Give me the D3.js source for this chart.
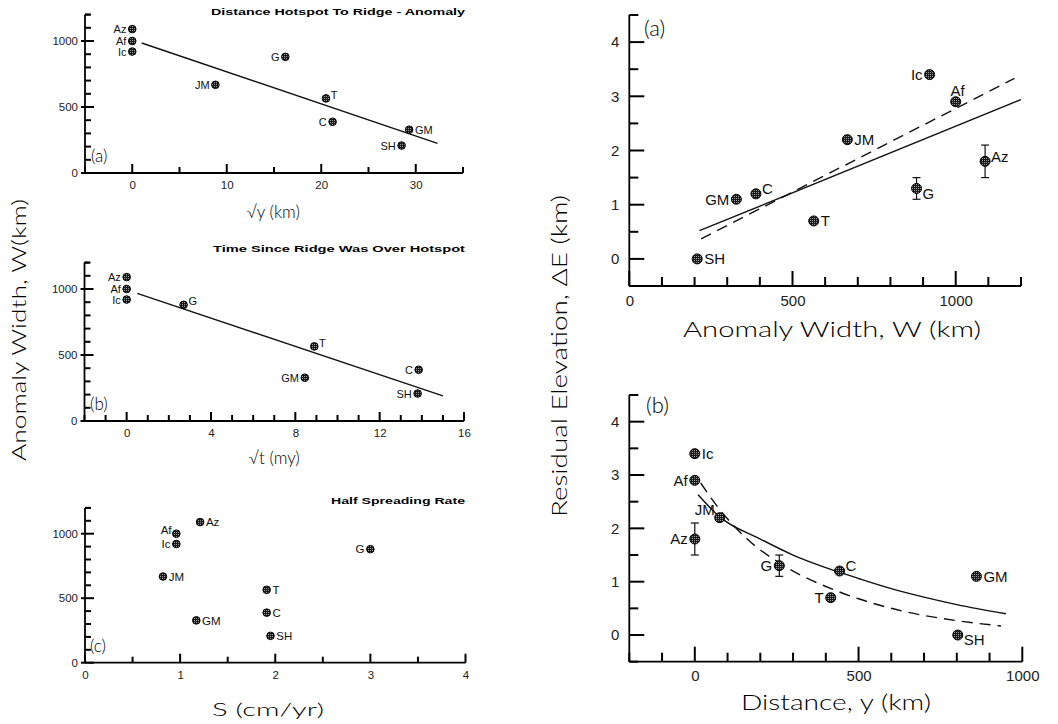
<!DOCTYPE html>
<html><head><meta charset="utf-8">
<script src="https://cdn.jsdelivr.net/npm/d3@7"></script>
<style>body{margin:0;background:#fff}svg{display:block}</style>
</head><body>
<svg id="c" width="1058" height="724"></svg>
<script>
// ---------- data ----------
const names    = ["Az","Af","Ic","G","JM","T","C","GM","SH"];
const widthW   = [1090,1000,920,880,668,565,388,328,208];        // anomaly width W (km)
const sqrtY    = [0,0,0,16.2,8.8,20.5,21.2,29.3,28.5];            // sqrt(y), km
const sqrtT    = [0,0,0,2.7,null,8.9,13.85,8.45,13.8];            // sqrt(t), my
const spreadS  = [1.21,0.96,0.96,3.0,0.82,1.91,1.91,1.17,1.95];   // half spreading rate cm/yr
const elevE    = [1.8,2.9,3.4,1.3,2.2,0.7,1.2,1.1,0.0];           // residual elevation (km)
const errLow   = [1.5,null,null,1.1,null,null,null,null,null];
const errHigh  = [2.1,null,null,1.5,null,null,null,null,null];
const distY    = [0,0,0,258,76,415,442,860,803];                  // distance y (km)

const fitA_x = [1, 32.3],   fitA_w = [985, 225];
const fitB_x = [0.5, 15],   fitB_w = [967, 190];
const lineW_solid = [215, 1200], lineE_solid = [0.52, 2.94];
const lineW_dash  = [220, 1180], lineE_dash  = [0.37, 3.33];
const curveY_solid = [10, 75, 200, 300, 445, 500, 600, 700, 800, 950];
const curveE_solid = [2.63, 2.22, 1.8, 1.5, 1.17, 1.06, 0.87, 0.71, 0.57, 0.40];
const curveY_dash  = [18, 70, 160, 272, 424, 500, 648, 800, 935];
const curveE_dash  = [2.85, 2.4, 1.8, 1.3, 0.85, 0.68, 0.43, 0.27, 0.17];

const leftYTicks = [0, 500, 1000];
const xTicksA = [0, 10, 20, 30];
const xTicksB = [0, 4, 8, 12, 16];
const xTicksC = [0, 1, 2, 3, 4];
const rightYTicks = [0, 1, 2, 3, 4];
const xTicksRA = [0, 500, 1000];
const xTicksRB = [0, 500, 1000];

// ---------- drawing ----------
const svg = d3.select("#c");
const NUM = "'Liberation Sans', Arial, sans-serif";
const LBL = "Lato, 'Noto Sans', sans-serif";
const fmt = d3.format("d");
const TICKCOL = "#000";

const defs = svg.append("defs");
const pat = defs.append("pattern").attr("id","spk").attr("width",2).attr("height",2)
  .attr("patternUnits","userSpaceOnUse");
pat.append("rect").attr("width",2).attr("height",2).attr("fill","#1a1a1a");
pat.append("rect").attr("width",1).attr("height",1).attr("fill","#9a9a9a");

const isMajor = (arr, d) => arr.some(t => Math.abs(t - d) < 1e-9);

function panel(cfg){
  const x = d3.scaleLinear().domain(cfg.xd).range(cfg.xr);
  const y = d3.scaleLinear().domain(cfg.yd).range(cfg.yr);
  const g = svg.append("g");
  const x0 = cfg.xr[0], y0 = cfg.yr[0];
  const xMin = d3.range(cfg.xd[0], cfg.xd[1]+1e-9, cfg.xMinor);
  const yMin = d3.range(cfg.yd[0], cfg.yd[1]+1e-9, cfg.yMinor);
  const xm = g.append("g").attr("transform",`translate(0,${y0})`)
    .call(d3.axisBottom(x).tickValues(cfg.xTicks).tickSize(0).tickPadding(cfg.xPad).tickFormat(fmt));
  const ym = g.append("g").attr("transform",`translate(${x0},0)`)
    .call(d3.axisLeft(y).tickValues(cfg.yTicks).tickSize(0).tickPadding(cfg.yPad).tickFormat(fmt));
  [xm,ym].forEach(a=>{
    a.selectAll("text").attr("font-family",NUM).attr("font-size",cfg.tickFont).attr("fill","#222");
  });
  xm.select(".domain").attr("d",`M${cfg.xr[0]},0H${cfg.xr[1]}`).attr("stroke","#000").attr("stroke-width",1.8);
  ym.select(".domain").attr("d",`M0,${cfg.yr[0]}V${cfg.yr[1]}`).attr("stroke","#000").attr("stroke-width",1.8);
  const tg = g.append("g").attr("class","ticks");
  xMin.forEach(d=>{
    const L = isMajor(cfg.xTicks,d) ? cfg.majorLen : cfg.minorLen;
    tg.append("path").attr("d",`M${x(d)},${y0}V${y0-L}`).attr("stroke",TICKCOL).attr("stroke-width",2).attr("fill","none");
  });
  yMin.forEach(d=>{
    const maj = isMajor(cfg.yTicks,d);
    const L = maj ? cfg.majorLen : cfg.minorLen, o = maj ? cfg.majorOut : 0;
    tg.append("path").attr("d",`M${x0-o},${y(d)}H${x0+L}`).attr("stroke",TICKCOL).attr("stroke-width",2).attr("fill","none");
  });
  tg.append("path").attr("d",`M${x0},${cfg.yr[1]}H${x0+5}`).attr("stroke",TICKCOL).attr("stroke-width",2);
  return {x,y,g};
}

function dots(p, xs, ys, place, r, fs){
  const data = names.map((n,i)=>({n, xv:xs[i], yv:ys[i], pl:place[i]})).filter(d=>d.xv!=null && d.yv!=null);
  p.g.selectAll(null).data(data).join("circle")
    .attr("cx",d=>p.x(d.xv)).attr("cy",d=>p.y(d.yv)).attr("r",r)
    .attr("fill","url(#spk)").attr("stroke","#000").attr("stroke-width",1);
  const off = {l:[-r-2,0,"end"], r:[r+2,0,"start"], ru:[r+1,-r,"start"], lu:[-r-1,-r,"end"],
               u:[2,-r-6,"middle"], rd:[r+1,r,"start"], ul:[-r,-r-3,"end"]};
  p.g.selectAll(null).data(data).join("text")
    .attr("x",d=>p.x(d.xv)+off[d.pl][0]).attr("y",d=>p.y(d.yv)+off[d.pl][1])
    .attr("dy","0.36em").attr("text-anchor",d=>off[d.pl][2])
    .attr("font-family",NUM).attr("font-size",fs).attr("fill","#111").text(d=>d.n);
}
function errbars(p, xs){
  const data = names.map((n,i)=>({xv:xs[i], lo:errLow[i], hi:errHigh[i]})).filter(d=>d.lo!=null);
  data.forEach(d=>{
    const cx = p.x(d.xv);
    p.g.append("line").attr("x1",cx).attr("x2",cx).attr("y1",p.y(d.lo)).attr("y2",p.y(d.hi)).attr("stroke","#111").attr("stroke-width",1.2);
    [d.lo,d.hi].forEach(v=>p.g.append("line").attr("x1",cx-4).attr("x2",cx+4).attr("y1",p.y(v)).attr("y2",p.y(v)).attr("stroke","#111").attr("stroke-width",1.2));
  });
}
function line(p, xs, ys, dash, curve){
  const pts = xs.map((v,i)=>[v,ys[i]]);
  p.g.append("path").datum(pts)
    .attr("d", d3.line().x(d=>p.x(d[0])).y(d=>p.y(d[1])).curve(curve||d3.curveLinear))
    .attr("fill","none").attr("stroke","#111").attr("stroke-width",1.4)
    .attr("stroke-dasharray", dash ? "11,7" : null);
}
function text(x,y,s,opt){
  const t = svg.append("text").attr("x",x).attr("y",y).text(s)
    .attr("font-family",opt.ff||LBL).attr("font-size",opt.fs).attr("fill","#000")
    .attr("text-anchor",opt.anchor||"middle");
  t.attr("font-weight",opt.fw||300);
  if(opt.len) t.attr("textLength",opt.len).attr("lengthAdjust","spacingAndGlyphs");
  if(opt.rot) t.attr("transform",`rotate(-90,${x},${y})`);
  return t;
}

const leftCommon = {yd:[0,1200], yMinor:100, yTicks:leftYTicks, minorLen:6, majorLen:9, majorOut:4, xPad:8, yPad:7, tickFont:11.5};
// ---- Left (a)
const pA = panel(Object.assign({}, leftCommon, {xr:[85,463], yr:[173,14.6], xd:[-5,35], xMinor:5, xTicks:xTicksA}));
line(pA, fitA_x, fitA_w, false);
dots(pA, sqrtY, widthW, ["l","l","l","l","l","ru","l","r","l"], 3.8, 11);
text(91, 162, "(a)", {fs:17, anchor:"start"});
text(465, 15, "Distance Hotspot To Ridge - Anomaly", {ff:NUM, fs:9, fw:"bold", anchor:"end", len:254});
text(273, 218, "\u221Ay (km)", {fs:17});

// ---- Left (b)
const pB = panel(Object.assign({}, leftCommon, {xr:[84.5,464], yr:[421,262.6], xd:[-2,16], xMinor:1, xTicks:xTicksB}));
line(pB, fitB_x, fitB_w, false);
dots(pB, sqrtT, widthW, ["l","l","l","ru","ru","ru","l","l","l"], 3.8, 11);
text(90, 410, "(b)", {fs:17, anchor:"start"});
text(465, 252, "Time Since Ridge Was Over Hotspot", {ff:NUM, fs:9, fw:"bold", anchor:"end", len:252});
text(274, 464, "\u221At (my)", {fs:17});

// ---- Left (c)
const pC = panel(Object.assign({}, leftCommon, {xr:[85,465.5], yr:[662.7,507.9], xd:[0,4], xMinor:0.5, xTicks:xTicksC}));
dots(pC, spreadS, widthW, ["r","lu","l","l","r","r","r","r","r"], 3.8, 11.5);
text(90, 652, "(c)", {fs:17, anchor:"start"});
text(465, 504, "Half Spreading Rate", {ff:NUM, fs:9, fw:"bold", anchor:"end", len:134});
text(268, 716, "S  (cm/yr)", {fs:17, len:112});

// ---- Left y label
text(26, 330, "Anomaly Width, W(km)", {fs:19, rot:true, len:262});

// ---- Right (a)
const rightCommon = {yd:[-0.5,4.5], yMinor:0.5, yTicks:rightYTicks, minorLen:9, majorLen:15, majorOut:0, xPad:9, yPad:10, tickFont:15};
const pRA = panel(Object.assign({}, rightCommon, {xr:[629.3,1021], yr:[286,15], xd:[0,1200], xMinor:100, xTicks:xTicksRA}));
line(pRA, lineW_solid, lineE_solid, false);
line(pRA, lineW_dash, lineE_dash, true);
errbars(pRA, widthW);
dots(pRA, widthW, elevE, ["ru","u","l","rd","r","r","ru","l","r"], 5, 15);
text(644, 36, "(a)", {fs:22, anchor:"start"});
text(832, 337, "Anomaly Width, W (km)", {fs:21, len:298});

// ---- Right (b)
const pRB = panel(Object.assign({}, rightCommon, {xr:[629.3,1022.3], yr:[661.7,395], xd:[-200,1000], xMinor:100, xTicks:xTicksRB}));
line(pRB, curveY_solid, curveE_solid, false, d3.curveMonotoneX);
line(pRB, curveY_dash, curveE_dash, true, d3.curveMonotoneX);
errbars(pRB, distY);
dots(pRB, distY, elevE, ["l","l","r","l","ul","l","ru","r","rd"], 5, 15);
text(646, 413, "(b)", {fs:22, anchor:"start"});
text(836, 710, "Distance, y (km)", {fs:21, len:190});

// ---- Right y label
text(567, 356, "Residual Elevation, \u0394E (km)", {fs:21, rot:true, len:322});
</script>
</body></html>
